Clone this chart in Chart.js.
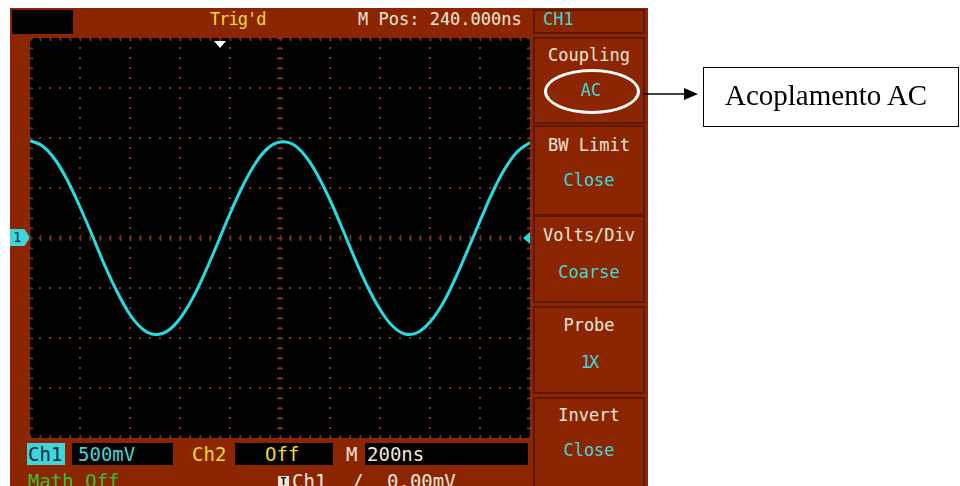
<!DOCTYPE html>
<html>
<head>
<meta charset="utf-8">
<script src="https://cdn.jsdelivr.net/npm/chart.js@4/dist/chart.umd.min.js"></script>
<style>
  body { margin: 0; width: 960px; height: 486px; background: #fff; position: relative; overflow: hidden; font-family: "DejaVu Sans Mono", monospace; }
  .abs { position: absolute; }
  .t17 { font-size: 17px; line-height: 17px; white-space: nowrap; }
  .t19 { font-size: 19px; line-height: 19px; white-space: nowrap; }
  #frame { left: 10px; top: 8px; width: 638px; height: 478px; background: #8c2602; }
  #screen { left: 30px; top: 38px; width: 500px; height: 400px; background: #000; }
  .blk { background: #000; }
  .menu { left: 533px; width: 112px; box-sizing: border-box; border: 2px solid #5e1700; }
  .mtxt { width: 112px; text-align: center; }
  .white { color: #f2e6da; }
  .cyan { color: #3fd6da; }
  .yellow { color: #f2dc1e; }
  .green { color: #33c233; }
  #scope { left: 28px; top: 36px; }
  #ring { left: 544px; top: 69px; width: 96px; height: 45px; box-sizing: border-box; border: 3px solid #fff; border-radius: 50%; }
  #note { left: 703px; top: 67px; width: 256px; height: 60px; box-sizing: border-box; border: 1.5px solid #000; }
  #noteText { left: 725px; top: 81px; font-family: "Liberation Serif", "Times New Roman", serif; font-size: 29px; line-height: 29px; color: #000; white-space: nowrap; }
  #ch1mark { left: 10px; top: 229px; width: 20px; height: 17px; background: #3fd6da; color: #063040; font-size: 14px; line-height: 17px; text-indent: 3px; clip-path: polygon(0 0, 72% 0, 100% 50%, 72% 100%, 0 100%); }
</style>
</head>
<body>
<div class="abs" id="frame"></div>
<div class="abs" id="screen"></div>

<!-- top status bar -->
<div class="abs blk" style="left:12px;top:10px;width:61px;height:24px;"></div>
<div class="abs t17 yellow" style="left:210px;top:11px;letter-spacing:-1px;">Trig'd</div>
<div class="abs t17 white" style="left:358px;top:11px;">M Pos: 240.000ns</div>
<div class="abs menu" style="top:9px;height:25px;"></div>
<div class="abs t17 cyan" style="left:543px;top:11px;">CH1</div>

<!-- right menu -->
<div class="abs menu" style="top:37px;height:87px;"></div>
<div class="abs menu" style="top:125px;height:91px;"></div>
<div class="abs menu" style="top:215px;height:88px;"></div>
<div class="abs menu" style="top:306px;height:88px;"></div>
<div class="abs menu" style="top:397px;height:92px;"></div>
<div class="abs t17 mtxt white" style="left:533px;top:47px;">Coupling</div>
<div class="abs t17 mtxt cyan" style="left:535px;top:82px;">AC</div>
<div class="abs t17 mtxt white" style="left:533px;top:137px;">BW Limit</div>
<div class="abs t17 mtxt cyan" style="left:533px;top:172px;">Close</div>
<div class="abs t17 mtxt white" style="left:533px;top:227px;">Volts/Div</div>
<div class="abs t17 mtxt cyan" style="left:533px;top:264px;">Coarse</div>
<div class="abs t17 mtxt white" style="left:533px;top:317px;">Probe</div>
<div class="abs t17 mtxt cyan" style="left:533px;top:354px;letter-spacing:-2px;">1X</div>
<div class="abs t17 mtxt white" style="left:533px;top:407px;">Invert</div>
<div class="abs t17 mtxt cyan" style="left:533px;top:442px;">Close</div>

<!-- bottom bar -->
<div class="abs" style="left:27px;top:443px;width:38px;height:22px;background:#3fd6da;"></div>
<div class="abs t19" style="left:28px;top:445px;color:#062a44;">Ch1</div>
<div class="abs blk" style="left:72px;top:443px;width:101px;height:22px;"></div>
<div class="abs t19 cyan" style="left:78px;top:445px;">500mV</div>
<div class="abs t19 yellow" style="left:192px;top:445px;">Ch2</div>
<div class="abs blk" style="left:235px;top:443px;width:98px;height:22px;"></div>
<div class="abs t19 yellow" style="left:265px;top:445px;">Off</div>
<div class="abs t19 white" style="left:346px;top:445px;">M</div>
<div class="abs blk" style="left:365px;top:443px;width:163px;height:22px;"></div>
<div class="abs t19 white" style="left:367px;top:445px;">200ns</div>
<div class="abs t19 green" style="left:28px;top:472px;">Math Off</div>
<div class="abs" style="left:278px;top:476px;width:11px;height:11px;background:#f2e6da;color:#000;font-size:10px;line-height:11px;text-align:center;font-weight:bold;">T</div>
<div class="abs t19 white" style="left:292px;top:472px;">Ch1</div>
<div class="abs t19 white" style="left:352px;top:472px;">/</div>
<div class="abs t19 white" style="left:387px;top:472px;">0.00mV</div>

<div class="abs" id="ch1mark">1</div>

<canvas class="abs" id="scope" width="504" height="404"></canvas>

<!-- annotation -->
<div class="abs" id="ring"></div>
<svg class="abs" style="left:0;top:0;" width="960" height="486">
  <line x1="643" y1="94" x2="686" y2="94" stroke="#000" stroke-width="1.5"/>
  <polygon points="684,88 698,94 684,100" fill="#000"/>
</svg>
<div class="abs" id="note"></div>
<div class="abs" id="noteText">Acoplamento AC</div>

<script>
// time in ns relative to screen centre (200 ns/div), CH1 voltage in mV (500 mV/div)
const timeNs = [
  -1000, -950, -900, -850, -800, -750, -700, -650, -600, -550, -500,
  -450, -400, -350, -300, -250, -200, -150, -100, -50, 0,
  50, 100, 150, 200, 250, 300, 350, 400, 450, 500,
  550, 600, 650, 700, 750, 800, 850, 900, 950, 1000,
];
const ch1mV = [
  975, 920, 785, 575, 310, 20, -280, -545, -765, -910, -965,
  -930, -805, -605, -345, -55, 245, 515, 740, 895, 960,
  940, 825, 630, 380, 90, -210, -485, -715, -880, -960,
  -945, -840, -660, -410, -125, 170, 455, 695, 865, 955,
];
const timeRange = [-1000, 1000];
const voltRange = [-2000, 2000];
const nsPerDiv = 200;
const mVPerDiv = 500;
const triggerPosNs = -240;
const triggerLevelmV = 0;

const gridColour = "#7e3420";
const traceColour = "#22dde3";

// cross ticks, edge ticks and trigger markers
const graticule = {
  id: "graticule",
  beforeDatasetsDraw(chart) {
    const { ctx, chartArea: a, scales: { x, y } } = chart;
    const x0 = x.getPixelForValue(0);
    const y0 = y.getPixelForValue(0);
    ctx.save();
    ctx.strokeStyle = gridColour;
    ctx.lineWidth = 1.5;
    ctx.beginPath();
    for (let t = timeRange[0]; t <= timeRange[1]; t += nsPerDiv / 5) {
      const px = Math.round(x.getPixelForValue(t)) + 0.5;
      ctx.moveTo(px, y0 - 3); ctx.lineTo(px, y0 + 3);
      ctx.moveTo(px, a.top); ctx.lineTo(px, a.top + 3);
      ctx.moveTo(px, a.bottom); ctx.lineTo(px, a.bottom - 3);
    }
    for (let v = voltRange[0]; v <= voltRange[1]; v += mVPerDiv / 5) {
      const py = Math.round(y.getPixelForValue(v)) + 0.5;
      ctx.moveTo(x0 - 3, py); ctx.lineTo(x0 + 3, py);
      ctx.moveTo(a.left, py); ctx.lineTo(a.left + 3, py);
      ctx.moveTo(a.right, py); ctx.lineTo(a.right - 3, py);
    }
    ctx.stroke();

    // trigger position (top) and trigger level (right)
    const tx = x.getPixelForValue(triggerPosNs);
    ctx.fillStyle = "#ffffff";
    ctx.beginPath();
    ctx.moveTo(tx - 6, a.top + 3);
    ctx.lineTo(tx + 6, a.top + 3);
    ctx.lineTo(tx, a.top + 10);
    ctx.closePath();
    ctx.fill();
    const ty = y.getPixelForValue(triggerLevelmV);
    ctx.fillStyle = traceColour;
    ctx.beginPath();
    ctx.moveTo(a.right, ty - 6);
    ctx.lineTo(a.right - 7, ty);
    ctx.lineTo(a.right, ty + 6);
    ctx.closePath();
    ctx.fill();
    ctx.restore();
  },
};

const scaleCommon = {
  type: "linear",
  ticks: { display: false },
  grid: { color: gridColour, lineWidth: 2, drawTicks: false },
  border: { display: false, dash: [2, 8], dashOffset: 1 },
};

new Chart(document.getElementById("scope"), {
  type: "line",
  data: {
    datasets: [{
      label: "CH1",
      data: timeNs.map((t, i) => ({ x: t, y: ch1mV[i] })),
      borderColor: traceColour,
      borderWidth: 3,
      pointRadius: 0,
      tension: 0.4,
      fill: false,
    }],
  },
  options: {
    responsive: false,
    animation: false,
    devicePixelRatio: 1,
    layout: { padding: 2 },
    plugins: { legend: { display: false }, tooltip: { enabled: false } },
    scales: {
      x: Object.assign({}, scaleCommon, {
        min: timeRange[0], max: timeRange[1],
        ticks: { display: false, stepSize: nsPerDiv },
        afterFit: (s) => { s.height = 0; },
      }),
      y: Object.assign({}, scaleCommon, {
        min: voltRange[0], max: voltRange[1],
        ticks: { display: false, stepSize: mVPerDiv },
        afterFit: (s) => { s.width = 0; },
      }),
    },
  },
  plugins: [graticule],
});
</script>
</body>
</html>
